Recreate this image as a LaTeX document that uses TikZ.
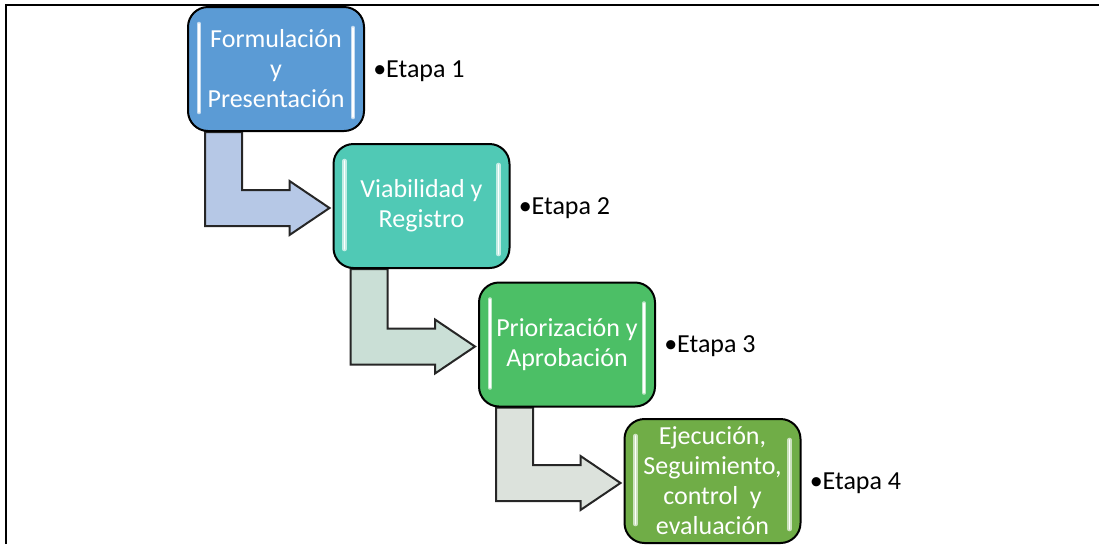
\documentclass[tikz,border=0pt]{standalone}
\usepackage{fontspec}
\setmainfont{Carlito}
\usetikzlibrary{calc,backgrounds}

% colores de las etapas
\definecolor{azulF}{RGB}{91,155,213}
\definecolor{turqV}{RGB}{80,201,181}
\definecolor{verdeP}{RGB}{76,191,102}
\definecolor{verdeE}{RGB}{112,173,71}
% colores de las flechas
\definecolor{flechaA}{RGB}{182,200,230}
\definecolor{flechaB}{RGB}{202,223,214}
\definecolor{flechaC}{RGB}{220,226,220}

\begin{document}
\begin{tikzpicture}[x=0.75pt, y=-0.75pt, >=stealth,
    etapabox/.style={draw=black, line width=1.5pt, rounded corners=15pt,
      minimum width=132pt, minimum height=93pt, inner sep=0pt, align=center,
      text=white, font=\fontsize{19.5}{22.5}\selectfont},
    etapa/.style={inner sep=0pt, anchor=west, font=\fontsize{19.5}{22.5}\selectfont},
    flechabody/.style={draw=black!85, line width=1.5pt, line join=miter},
    brillo/.style={line width=3.5pt, line cap=round},
    brillofino/.style={line width=1.2pt, line cap=round, draw=white}]
  \useasboundingbox (0,0) rectangle (1099,544);

  % Marco de la figura
  \draw[line width=1.5pt] (6,544) -- (6,5) -- (1099,5);

  % Cajas de las etapas
  \node[etapabox, fill=azulF] (f1) at (276,69) {Formulación\\y\\Presentación};
  \node[etapabox, fill=turqV] (f2) at (421.5,206) {Viabilidad y\\Registro};
  \node[etapabox, fill=verdeP] (f3) at (567,344.5) {Priorización y\\Aprobación};
  \node[etapabox, fill=verdeE] (f4) at (712.5,481) {Ejecución,\\Seguimiento,\\control~ y\\evaluación};

  % Brillos verticales dentro de las cajas
  \foreach \n/\c in {f1/azulF, f2/turqV, f3/verdeP, f4/verdeE} {
    \draw[brillo, draw=\c!35!white] ($(\n.north west)+(12,18)$) -- ($(\n.south west)+(12,-20)$);
    \draw[brillo, draw=\c!35!white] ($(\n.north east)+(-12,22)$) -- ($(\n.south east)+(-12,-15)$);
    \draw[brillofino] ($(\n.north west)+(12,18)$) -- ($(\n.south west)+(12,-20)$);
    \draw[brillofino] ($(\n.north east)+(-12,22)$) -- ($(\n.south east)+(-12,-15)$);
  }

  % Etiquetas de cada etapa
  \node[etapa] (e1) at ($(f1.east)+(8,2)$) {•Etapa 1};
  \node[etapa] (e2) at ($(f2.east)+(8,2)$) {•Etapa 2};
  \node[etapa] (e3) at ($(f3.east)+(8,2)$) {•Etapa 3};
  \node[etapa] (e4) at ($(f4.east)+(8,2)$) {•Etapa 4};

  % Flechas en L entre etapas (por debajo de las cajas)
  \begin{pgfonlayer}{background}
    \foreach \a/\b/\c in {f1/f2/flechaA, f2/f3/flechaB, f3/f4/flechaC} {
      \coordinate (q) at (\a.south west |- \b.west);
      \draw[flechabody, fill=\c]
        ($(\a.south west)+(18,0)$) -- ($(\a.south west)+(55,0)$)
        -- ($(q)+(55,-16)$) -- ($(\b.west)+(-43,-16)$)
        -- ($(\b.west)+(-43,-25)$) -- ($(\b.west)+(-3,2)$)
        -- ($(\b.west)+(-43,29)$) -- ($(\b.west)+(-43,20)$)
        -- ($(q)+(18,20)$) -- cycle;
    }
  \end{pgfonlayer}
\end{tikzpicture}
\end{document}
